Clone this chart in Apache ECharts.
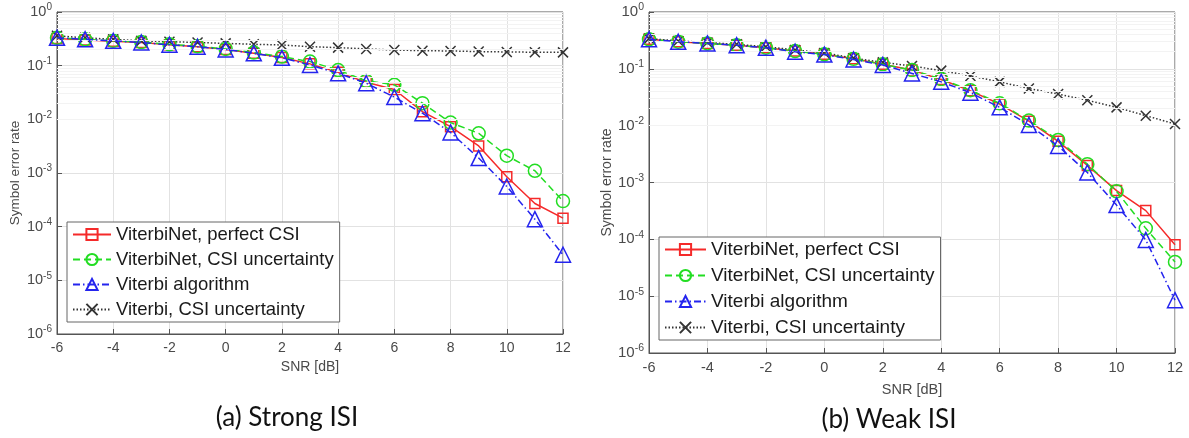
<!DOCTYPE html>
<html>
<head>
<meta charset="utf-8">
<script src="https://cdn.jsdelivr.net/npm/echarts@6/dist/echarts.min.js"></script>
<style>
html,body{margin:0;padding:0;background:#fff;}
#chart{width:1189px;height:438px;}
</style>
</head>
<body>
<div id="chart"></div>
<script>
// ---------------- data ----------------
const snr = [-6,-5,-4,-3,-2,-1,0,1,2,3,4,5,6,7,8,9,10,11,12];
const seriesNames = ['ViterbiNet, perfect CSI','ViterbiNet, CSI uncertainty','Viterbi algorithm','Viterbi, CSI uncertainty'];
const captions = ['(a) Strong ISI','(b) Weak ISI'];
const xTicks = [-6,-4,-2,0,2,4,6,8,10,12];

// (a) Strong ISI
const aPerfect = [0.32,0.30,0.285,0.27,0.245,0.225,0.20,0.17,0.142,0.108,0.075,0.049,0.036,0.0139,0.0073,0.0032,0.00085,0.00027,0.000144];
const aUncert  = [0.33,0.31,0.29,0.275,0.25,0.23,0.205,0.175,0.148,0.119,0.083,0.052,0.044,0.020,0.0087,0.0055,0.0021,0.0011,0.0003];
const aViterbi = [0.33,0.31,0.29,0.27,0.245,0.225,0.20,0.17,0.14,0.103,0.072,0.047,0.026,0.013,0.0057,0.0019,0.00056,0.000138,0.00003];
const aCsi     = [0.36,0.33,0.31,0.29,0.28,0.27,0.26,0.25,0.243,0.226,0.217,0.205,0.196,0.19,0.188,0.183,0.18,0.178,0.177];

// (b) Weak ISI
const bPerfect = [0.33,0.30,0.28,0.26,0.235,0.205,0.18,0.15,0.12,0.095,0.065,0.041,0.024,0.012,0.0053,0.002,0.00072,0.00032,0.00008];
const bUncert  = [0.33,0.30,0.28,0.26,0.235,0.205,0.18,0.15,0.12,0.095,0.066,0.042,0.0247,0.0123,0.0056,0.0021,0.0007,0.000156,0.00004];
const bViterbi = [0.33,0.30,0.28,0.26,0.235,0.20,0.178,0.146,0.117,0.083,0.059,0.038,0.021,0.0103,0.0044,0.0015,0.0004,0.0000975,0.0000085];
const bCsi     = [0.34,0.31,0.29,0.27,0.245,0.215,0.19,0.155,0.13,0.112,0.093,0.075,0.059,0.045,0.036,0.028,0.021,0.015,0.0107];

// ---------------- styling ----------------
const FONT = 'Liberation Sans, Arial, sans-serif';
const styles = [
  {color:'#f52a2a', type:'solid', symbol:'rect', size:10},
  {color:'#22dd22', type:[7,4], symbol:'circle', size:13},
  {color:'#2424ee', type:[7,3,1.5,3], symbol:'triangle', size:15},
  {color:'#333333', type:[1.5,2], symbol:'path://M0,0L10,10M10,0L0,10', size:10}
];

function pair(xs, ys){ return xs.map((x,i)=>[x, ys[i]]); }

function makeSeries(gi, arrs){
  return arrs.map((arr,k)=>{
    const s = styles[k];
    return {
      name: seriesNames[k], type:'line', xAxisIndex:gi, yAxisIndex:gi,
      data: pair(snr, arr), symbol:s.symbol, symbolSize:s.size,
      showAllSymbol:true, z: 3 + (k===3?0:k),
      lineStyle:{color:s.color, width:1.5, type:s.type},
      itemStyle:{color:'rgba(0,0,0,0)', borderColor:s.color, borderWidth:1.5},
      emphasis:{disabled:true}, animation:false
    };
  });
}

function minorLines(){
  const d=[];
  for(let e=-6;e<0;e++){ for(let m=2;m<=9;m++){ d.push({yAxis: m*Math.pow(10,e)}); } }
  return d;
}

function gridSeries(gi){
  return {
    type:'line', xAxisIndex:gi, yAxisIndex:gi, data:[], z:0, silent:true,
    markLine:{silent:true, symbol:['none','none'], label:{show:false}, animation:false,
      lineStyle:{color:'#f3f3f3', width:1, type:'solid'}, emphasis:{disabled:true},
      data:minorLines()}
  };
}

function yAxis(gi, fs){
  return {
    type:'log', logBase:10, min:1e-6, max:1, gridIndex:gi,
    name:'Symbol error rate', nameLocation:'middle', nameGap: 35,
    nameTextStyle:{fontFamily:FONT, fontSize:fs, color:'#4a4a4a'},
    axisLine:{show:true, onZero:false, lineStyle:{color:'#555', width:1}},
    axisTick:{show:true, inside:true, length:5, lineStyle:{color:'#555'}},
    splitLine:{show:true, lineStyle:{color:'#e2e2e2', width:1}},
    axisLabel:{margin:5, formatter:function(v){const e=Math.round(Math.log10(v)); return '{b|10}{s|'+e+'}';},
      rich:{b:{fontFamily:FONT, fontSize:fs+1, color:'#4a4a4a'}, s:{fontFamily:FONT, fontSize:fs-3.5, color:'#4a4a4a', padding:[0,0,9,0]}}}
  };
}
function xAxis(gi, fs, gap){
  return {
    type:'value', min:-6, max:12, interval:2, gridIndex:gi,
    name:'SNR [dB]', nameLocation:'middle', nameGap:gap,
    nameTextStyle:{fontFamily:FONT, fontSize:fs, color:'#4a4a4a'},
    axisLine:{show:true, onZero:false, lineStyle:{color:'#555', width:1}},
    axisTick:{show:true, inside:true, length:5, lineStyle:{color:'#555'}},
    splitLine:{show:true, lineStyle:{color:'#e2e2e2', width:1}},
    axisLabel:{margin:7, fontFamily:FONT, fontSize:fs, color:'#4a4a4a',
      customValues: xTicks}
  };
}
function legend(gi, left, top, fs, w, gap){
  return {
    show:true, orient:'vertical', left:left, top:top, data:seriesNames,
    backgroundColor:'#fff', borderColor:'#666', borderWidth:1,
    padding:[3,6,3,5], itemWidth:w, itemHeight:14, itemGap:gap,
    textStyle:{fontFamily:FONT, fontSize:fs, color:'#1a1a1a'},
    selectedMode:false, inactiveColor:'#1a1a1a'
  };
}

const chart = echarts.init(document.getElementById('chart'), null, {renderer:'canvas'});
const option = {
  animation:false,
  backgroundColor:'#fff',
  grid:[
    {left:57, top:12, width:506, height:322, show:true, borderColor:'#555', borderWidth:1, backgroundColor:'#fff'},
    {left:649, top:12, width:526, height:341, show:true, borderColor:'#555', borderWidth:1, backgroundColor:'#fff'}
  ],
  xAxis:[xAxis(0,14,26), xAxis(1,14.5,29)],
  yAxis:[yAxis(0,13.5), yAxis(1,14)],
  legend:[legend(0,67,222,18.5,38,6), legend(1,659,237,19,41,7)],
  series:[gridSeries(0), gridSeries(1)]
    .concat(makeSeries(0,[aPerfect,aUncert,aViterbi,aCsi]))
    .concat(makeSeries(1,[bPerfect,bUncert,bViterbi,bCsi])),
  graphic:[
    {type:'text', x:287, y:418, style:{text:captions[0], fontFamily:'Lato, sans-serif', fontSize:26, fill:'#111', textAlign:'center', textVerticalAlign:'middle'}},
    {type:'text', x:889, y:420, style:{text:captions[1], fontFamily:'Lato, sans-serif', fontSize:26, fill:'#111', textAlign:'center', textVerticalAlign:'middle'}}
  ]
};
chart.setOption(option);
</script>
</body>
</html>
